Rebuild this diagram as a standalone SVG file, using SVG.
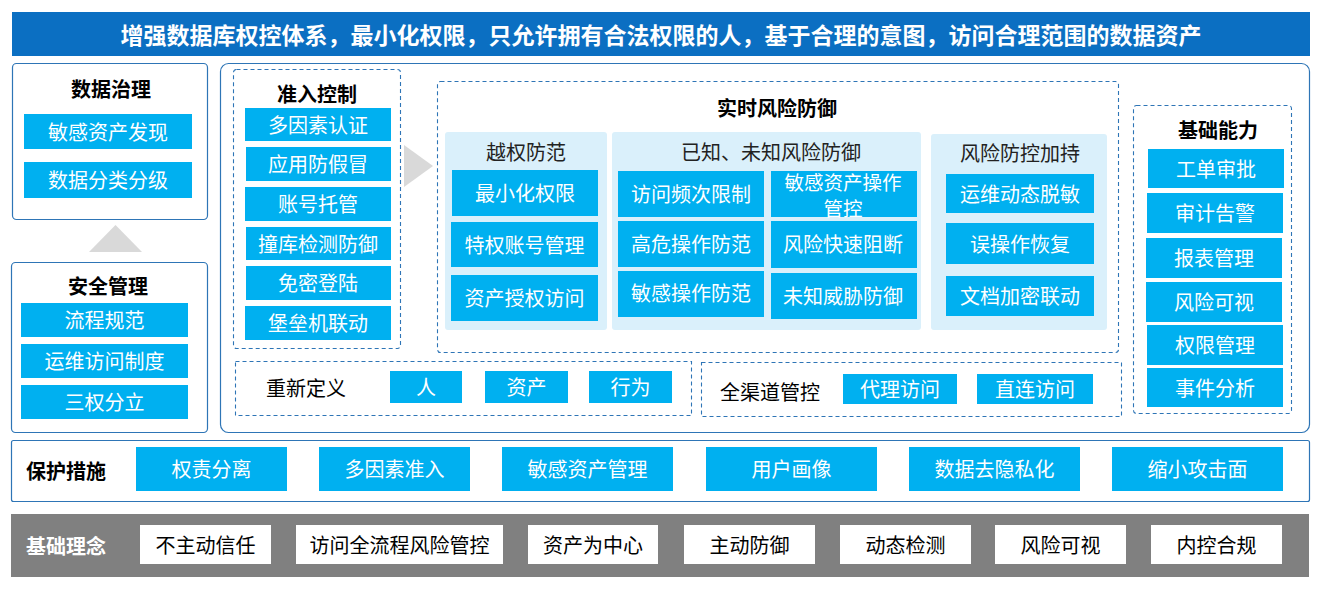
<svg xmlns="http://www.w3.org/2000/svg" width="1321" height="596" viewBox="0 0 1321 596">
<defs>
<style>
text{font-family:"Noto Sans CJK SC","Microsoft YaHei",sans-serif;dominant-baseline:central;text-anchor:middle;}
.btn{fill:#00B0F0;}
.bt{fill:#FFFFFF;font-size:20px;}
.h{fill:#000;font-size:20px;font-weight:bold;}
.pt{fill:#222;font-size:20px;}
.box{fill:#FFFFFF;stroke:#2E75B6;stroke-width:1.2;}
.dash{fill:none;stroke:#2E75B6;stroke-width:1.1;stroke-dasharray:4 3;}
.panel{fill:#DAF0FB;}
.wb{fill:#FFFFFF;}
.wt{fill:#000;font-size:20px;}
.arr{fill:#D9D9D9;}
</style>
</defs>
<rect width="1321" height="596" fill="#FFFFFF"/>

<g id="title">
<rect x="12" y="12" width="1298" height="44" fill="#0B6FC2"/>
<text x="661" y="34" style="fill:#fff;font-size:23px;font-weight:bold">增强数据库权控体系，最小化权限，只允许拥有合法权限的人，基于合理的意图，访问合理范围的数据资产</text>
</g>

<g id="data-governance">
<rect class="box" x="12.5" y="63.5" width="195" height="156" rx="4"/>
<text class="h" x="111" y="88">数据治理</text>
<rect class="btn" x="24" y="114" width="168" height="35"/><text class="bt" x="108" y="131">敏感资产发现</text>
<rect class="btn" x="24" y="162" width="168" height="36"/><text class="bt" x="108" y="179.5">数据分类分级</text>
</g>

<g id="security-management">
<rect class="box" x="11.5" y="262.5" width="196" height="170" rx="4"/>
<text class="h" x="108" y="285">安全管理</text>
<rect class="btn" x="21" y="303" width="167" height="34"/><text class="bt" x="104.5" y="319.5">流程规范</text>
<rect class="btn" x="21" y="344" width="167" height="34"/><text class="bt" x="104.5" y="360.5">运维访问制度</text>
<rect class="btn" x="21" y="385" width="167" height="34"/><text class="bt" x="104.5" y="401.5">三权分立</text>
</g>

<g id="main-frame">
<rect class="box" x="220.5" y="63.5" width="1089" height="369" rx="8"/>
</g>

<g id="access-control">
<rect class="dash" x="233.5" y="69.5" width="167" height="279" rx="3"/>
<text class="h" x="317" y="93">准入控制</text>
<rect class="btn" x="245" y="108" width="146" height="33"/><text class="bt" x="318" y="124">多因素认证</text>
<rect class="btn" x="246" y="147" width="145" height="34"/><text class="bt" x="318" y="163.5">应用防假冒</text>
<rect class="btn" x="245" y="187" width="146" height="34"/><text class="bt" x="318" y="203.5">账号托管</text>
<rect class="btn" x="246" y="227" width="145" height="33"/><text class="bt" x="318" y="243">撞库检测防御</text>
<rect class="btn" x="246" y="266" width="145" height="34"/><text class="bt" x="318" y="282.5">免密登陆</text>
<rect class="btn" x="245" y="306" width="146" height="34"/><text class="bt" x="318" y="322.5">堡垒机联动</text>
</g>

<g id="realtime-defense">
<rect class="dash" x="437.5" y="81.5" width="681" height="271" rx="3"/>
<text class="h" x="777" y="107">实时风险防御</text>
<g id="privilege-escalation">
<rect class="panel" x="445" y="132" width="162" height="198" rx="3"/>
<text class="pt" x="526" y="151">越权防范</text>
<rect class="btn" x="452" y="170" width="146" height="46"/><text class="bt" x="525" y="192.5">最小化权限</text>
<rect class="btn" x="451" y="222" width="147" height="45"/><text class="bt" x="524.5" y="244">特权账号管理</text>
<rect class="btn" x="451" y="275" width="147" height="46"/><text class="bt" x="524.5" y="297.5">资产授权访问</text>
</g>
<g id="known-unknown">
<rect class="panel" x="612" y="132" width="309" height="198" rx="3"/>
<text class="pt" x="771" y="151">已知、未知风险防御</text>
<rect class="btn" x="618" y="171" width="146" height="46"/><text class="bt" x="691" y="193.5">访问频次限制</text>
<rect class="btn" x="618" y="221" width="146" height="46"/><text class="bt" x="691" y="243.5">高危操作防范</text>
<rect class="btn" x="618" y="271" width="146" height="46"/><text class="bt" x="691" y="292.5">敏感操作防范</text>
<rect class="btn" x="771" y="171" width="146" height="46"/><text class="bt" style="font-size:19.5px"><tspan x="843" y="181">敏感资产操作</tspan><tspan x="843" y="207">管控</tspan></text>
<rect class="btn" x="771" y="221" width="146" height="47"/><text class="bt" x="843" y="243.5">风险快速阻断</text>
<rect class="btn" x="771" y="273" width="146" height="46"/><text class="bt" x="843" y="295.5">未知威胁防御</text>
</g>
<g id="risk-support">
<rect class="panel" x="931" y="134" width="176" height="196" rx="3"/>
<text class="pt" x="1020" y="152">风险防控加持</text>
<rect class="btn" x="946" y="174" width="148" height="39"/><text class="bt" x="1020" y="193">运维动态脱敏</text>
<rect class="btn" x="946" y="223" width="148" height="41"/><text class="bt" x="1020" y="243">误操作恢复</text>
<rect class="btn" x="946" y="276" width="148" height="40"/><text class="bt" x="1020" y="295.5">文档加密联动</text>
</g>
</g>

<g id="basic-capability">
<rect class="dash" x="1133.5" y="105.5" width="158" height="308" rx="3"/>
<text class="h" x="1218" y="129">基础能力</text>
<rect class="btn" x="1148" y="149" width="136" height="39"/><text class="bt" x="1216" y="168">工单审批</text>
<rect class="btn" x="1147" y="193" width="136" height="40"/><text class="bt" x="1215" y="212.5">审计告警</text>
<rect class="btn" x="1146" y="238" width="136" height="40"/><text class="bt" x="1214" y="257.5">报表管理</text>
<rect class="btn" x="1146" y="282" width="136" height="40"/><text class="bt" x="1214" y="301.5">风险可视</text>
<rect class="btn" x="1147" y="325" width="136" height="40"/><text class="bt" x="1215" y="344.5">权限管理</text>
<rect class="btn" x="1147" y="368" width="136" height="39"/><text class="bt" x="1215" y="387">事件分析</text>
</g>

<g id="redefine">
<rect class="dash" x="235.5" y="361.5" width="456" height="54"/>
<text class="wt" x="306" y="387.5">重新定义</text>
<rect class="btn" x="390" y="371" width="72" height="32"/><text class="bt" x="426" y="386.5">人</text>
<rect class="btn" x="485" y="371" width="83" height="32"/><text class="bt" x="526.5" y="386.5">资产</text>
<rect class="btn" x="589" y="371" width="83" height="32"/><text class="bt" x="630.5" y="386.5">行为</text>
</g>

<g id="all-channel">
<rect class="dash" x="701.5" y="362.5" width="420" height="54"/>
<text class="wt" x="770" y="391.5">全渠道管控</text>
<rect class="btn" x="843" y="374" width="114" height="30"/><text class="bt" x="900" y="388.5">代理访问</text>
<rect class="btn" x="977" y="374" width="116" height="30"/><text class="bt" x="1035" y="388.5">直连访问</text>
</g>

<g id="protection">
<rect class="box" x="11.5" y="440.5" width="1298" height="61" rx="2"/>
<text class="h" x="66" y="470.5">保护措施</text>
<rect class="btn" x="136" y="447" width="151" height="44"/><text class="bt" x="211.5" y="468.5">权责分离</text>
<rect class="btn" x="319" y="447" width="151" height="44"/><text class="bt" x="394.5" y="468.5">多因素准入</text>
<rect class="btn" x="502" y="447" width="171" height="44"/><text class="bt" x="587.5" y="468.5">敏感资产管理</text>
<rect class="btn" x="706" y="447" width="171" height="44"/><text class="bt" x="791.5" y="468.5">用户画像</text>
<rect class="btn" x="909" y="447" width="171" height="44"/><text class="bt" x="994.5" y="468.5">数据去隐私化</text>
<rect class="btn" x="1112" y="447" width="171" height="44"/><text class="bt" x="1197.5" y="468.5">缩小攻击面</text>
</g>

<g id="foundation">
<rect x="11" y="514" width="1298" height="63" fill="#808080"/>
<text x="66" y="545.5" style="fill:#fff;font-size:20px;font-weight:bold">基础理念</text>
<rect class="wb" x="140" y="525" width="131" height="39"/><text class="wt" x="205.5" y="544.5">不主动信任</text>
<rect class="wb" x="296" y="525" width="207" height="39"/><text class="wt" x="399.5" y="544.5">访问全流程风险管控</text>
<rect class="wb" x="528" y="525" width="130" height="39"/><text class="wt" x="593" y="544.5">资产为中心</text>
<rect class="wb" x="684" y="525" width="131" height="39"/><text class="wt" x="749.5" y="544.5">主动防御</text>
<rect class="wb" x="840" y="525" width="131" height="39"/><text class="wt" x="905.5" y="544.5">动态检测</text>
<rect class="wb" x="995" y="525" width="131" height="39"/><text class="wt" x="1060.5" y="544.5">风险可视</text>
<rect class="wb" x="1151" y="525" width="131" height="39"/><text class="wt" x="1216.5" y="544.5">内控合规</text>
</g>

<g id="connectors">
<polygon class="arr" points="89,252 142,252 115.5,225"/>
<polygon class="arr" points="404,145 404,187 433,166"/>
</g>
</svg>
